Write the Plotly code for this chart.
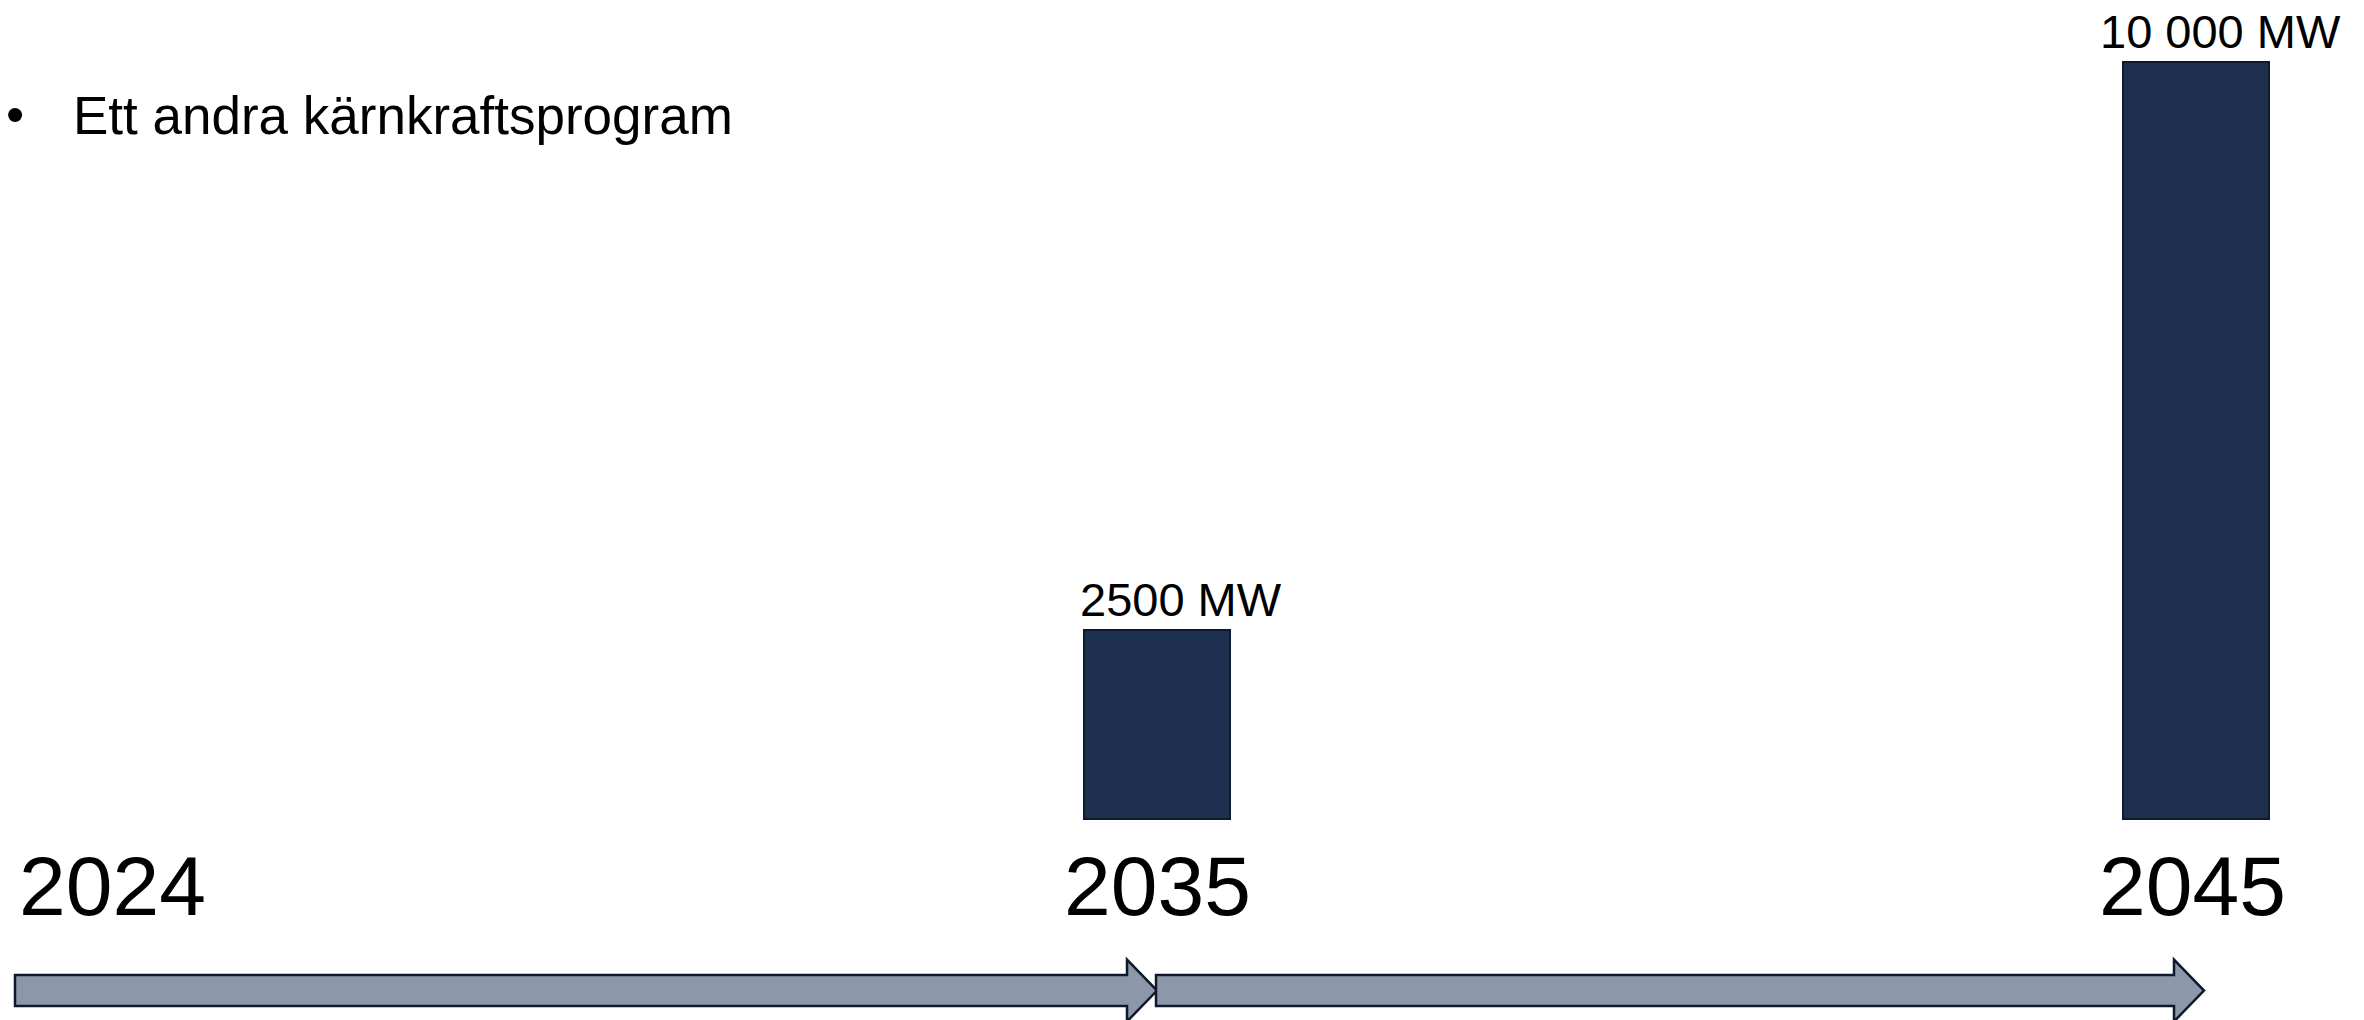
import plotly.graph_objects as go

# ---- data ----
years = ["2024", "2035", "2045"]
capacity_mw = [None, 2500, 10000]
capacity_labels = ["", "2500 MW", "10 000 MW"]
heading = "Ett andra kärnkraftsprogram"

# ---- styles ----
W, H = 2364, 1020
BAR_COLOR = "#1D2F4F"
EDGE = "#0E1A2C"
ARROW_FILL = "#8C98A9"
FONT = "Liberation Sans, Arial, sans-serif"

# axis ranges (category index on x, MW on y)
X_RANGE = [-0.1136, 2.1617]
Y_RANGE = [-2655, 10819]
px_per_x = W / (X_RANGE[1] - X_RANGE[0])
px_per_y = H / (Y_RANGE[1] - Y_RANGE[0])

xs = list(range(len(years)))

fig = go.Figure()

bx = [x for x, v in zip(xs, capacity_mw) if v is not None]
by = [v for v in capacity_mw if v is not None]
fig.add_trace(go.Bar(
    x=bx, y=by, width=146 / px_per_x,
    marker=dict(color=BAR_COLOR, line=dict(color=EDGE, width=2)),
    hoverinfo="skip", showlegend=False,
))

annotations = []
# value labels above bars
for x, v, lab in zip(xs, capacity_mw, capacity_labels):
    if v is None:
        continue
    annotations.append(dict(
        x=x, y=v, xref="x", yref="y", text=lab, showarrow=False,
        xanchor="center", yanchor="bottom", xshift=24, yshift=2,
        font=dict(family=FONT, size=47, color="black"),
    ))
# year labels below baseline
for x, yr in zip(xs, years):
    annotations.append(dict(
        x=x, y=0, xref="x", yref="y", text=yr, showarrow=False,
        xanchor="center", yanchor="top", xshift=-6 if x == 0 else (-4 if x == 2 else 0), yshift=-18,
        font=dict(family=FONT, size=84, color="black"),
    ))
# bullet heading
annotations.append(dict(
    x=0, y=1 - 113 / H, xref="paper", yref="paper", text="•", showarrow=False,
    xanchor="left", yanchor="middle", xshift=4, yshift=-1,
    font=dict(family=FONT, size=52, color="black"),
))
annotations.append(dict(
    x=74 / W, y=1 - 113 / H, xref="paper", yref="paper", text=heading, showarrow=False,
    xanchor="left", yanchor="middle", xshift=-3, yshift=-2,
    font=dict(family=FONT, size=53, color="black"),
))

# timeline arrows between years (block arrows)
y_c = -(990.5 - 819) / px_per_y
shaft_h = 15.5 / px_per_y
head_h = 31 / px_per_y
head_len = 30 / px_per_x
segments = [(X_RANGE[0] + 15 / px_per_x, 1.0), (1.0 - 1 / px_per_x, 2.0 + 8 / px_per_x)]
shapes = []
for x0, x1 in segments:
    xh = x1 - head_len
    path = (f"M {x0} {y_c + shaft_h} L {xh} {y_c + shaft_h} L {xh} {y_c + head_h} "
            f"L {x1} {y_c} L {xh} {y_c - head_h} L {xh} {y_c - shaft_h} "
            f"L {x0} {y_c - shaft_h} Z")
    shapes.append(dict(type="path", path=path, xref="x", yref="y",
                       fillcolor=ARROW_FILL, line=dict(color=EDGE, width=2.5)))

fig.update_layout(
    width=W, height=H,
    margin=dict(l=0, r=0, t=0, b=0, pad=0),
    paper_bgcolor="white", plot_bgcolor="white",
    xaxis=dict(range=X_RANGE, visible=False, fixedrange=True),
    yaxis=dict(range=Y_RANGE, visible=False, fixedrange=True),
    annotations=annotations, shapes=shapes,
    bargap=0,
)

fig.write_html("out.html", config={"displayModeBar": False},
               post_script="document.body.style.margin='0';document.body.style.overflow='hidden';")
